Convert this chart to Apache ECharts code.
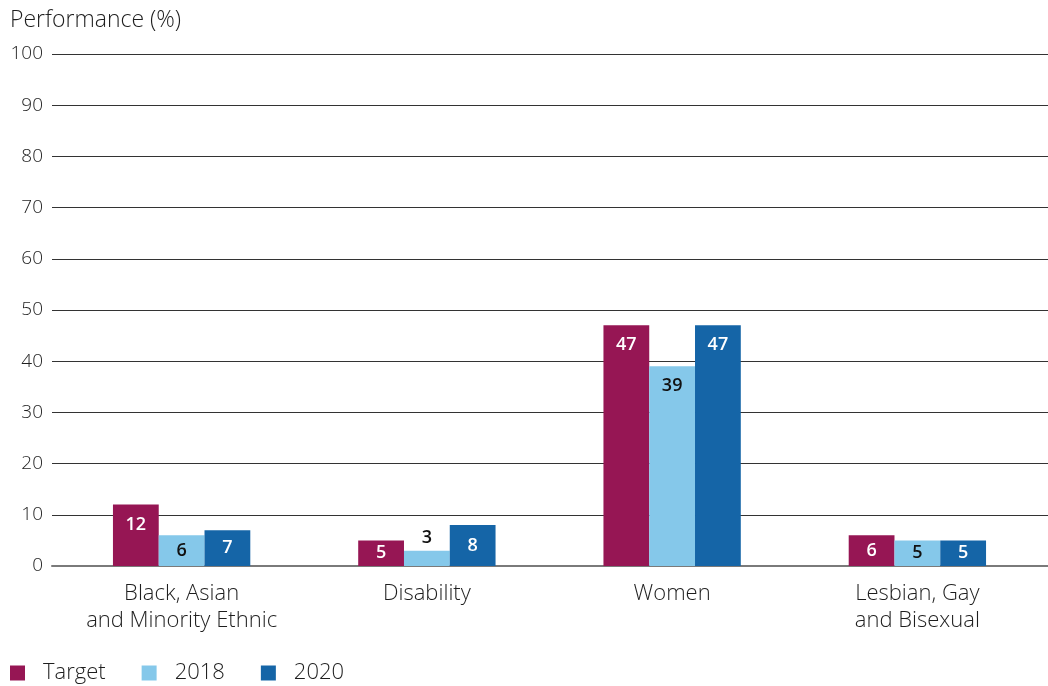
<!DOCTYPE html>
<html>
<head>
<meta charset="utf-8">
<title>Performance (%)</title>
<script src="https://cdn.jsdelivr.net/npm/echarts@6/dist/echarts.min.js"></script>
<style>
  html, body { margin: 0; padding: 0; background: #fff; }
  #chart { width: 1048px; height: 686px; }
</style>
</head>
<body>
<div id="chart"></div>
<script>
// Representation by group: target vs. 2018 and 2020 performance
const categories = [
  'Black, Asian\nand Minority Ethnic',
  'Disability',
  'Women',
  'Lesbian, Gay\nand Bisexual'
];
const targetValues = [12, 5, 47, 6];
const values2018 = [6, 3, 39, 5];
const values2020 = [7, 8, 47, 5];
const yTicks = { min: 0, max: 100, interval: 10 };

const FONT = '"Open Sans", "Liberation Sans", sans-serif';
const TEXT_COLOR = '#1e1e1e';

// Tall bars carry their value near the top, short ones in the middle,
// and the very shortest above the bar.
function labelFor(v, color) {
  if (v < 4) {
    return { show: true, position: 'top', distance: 4, color: '#111' };
  }
  if (v < 10) {
    return { show: true, position: 'inside', color: color };
  }
  return { show: true, position: 'insideTop', distance: 11, color: color };
}

function barSeries(name, values, color, labelColor) {
  return {
    name: name,
    type: 'bar',
    xAxisIndex: 1,
    yAxisIndex: 1,
    barGap: '0%',
    barCategoryGap: '44%',
    itemStyle: { color: color },
    label: {
      fontFamily: FONT,
      fontSize: 18,
      fontWeight: 600
    },
    data: values.map(v => ({ value: v, label: labelFor(v, labelColor) }))
  };
}

const chart = echarts.init(document.getElementById('chart'), null, { renderer: 'canvas' });

chart.setOption({
  animation: false,
  textStyle: { fontFamily: FONT },
  title: {
    text: 'Performance (%)',
    left: 5,
    top: 4,
    textStyle: { fontFamily: FONT, fontSize: 23, fontWeight: 300, color: TEXT_COLOR }
  },
  legend: {
    left: 5,
    top: 657,
    icon: 'rect',
    itemWidth: 15,
    itemHeight: 15,
    itemGap: 36,
    textStyle: {
      fontFamily: FONT,
      fontSize: 22,
      fontWeight: 300,
      color: TEXT_COLOR,
      padding: [0, 0, 0, 13]
    },
    data: ['Target', '2018', '2020']
  },
  grid: [
    // scale + gridlines across the full width
    { left: 52, right: 0, top: 54, bottom: 120 },
    // bars, slightly inset
    { left: 59, right: 8, top: 54, bottom: 120 }
  ],
  xAxis: [
    {
      gridIndex: 0,
      type: 'category',
      data: categories,
      axisLine: { show: true, lineStyle: { color: '#7a7a7a', width: 2 } },
      axisTick: { show: false },
      axisLabel: { show: false }
    },
    {
      gridIndex: 1,
      type: 'category',
      data: categories,
      axisLine: { show: false },
      axisTick: { show: false },
      axisLabel: {
        interval: 0,
        margin: 14,
        fontFamily: FONT,
        fontSize: 22,
        fontWeight: 300,
        color: TEXT_COLOR,
        lineHeight: 27
      }
    }
  ],
  yAxis: [
    {
      gridIndex: 0,
      type: 'value',
      min: yTicks.min,
      max: yTicks.max,
      interval: yTicks.interval,
      axisLine: { show: false },
      axisTick: { show: false },
      axisLabel: {
        margin: 9,
        fontFamily: FONT,
        fontSize: 19,
        fontWeight: 300,
        color: TEXT_COLOR
      },
      splitLine: { show: true, lineStyle: { color: '#333', width: 1 } }
    },
    {
      gridIndex: 1,
      type: 'value',
      min: yTicks.min,
      max: yTicks.max,
      interval: yTicks.interval,
      show: false,
      splitLine: { show: false }
    }
  ],
  series: [
    barSeries('Target', targetValues, '#961654', '#fff'),
    barSeries('2018', values2018, '#85c8ea', '#111'),
    barSeries('2020', values2020, '#1565a7', '#fff')
  ]
});
</script>
</body>
</html>
